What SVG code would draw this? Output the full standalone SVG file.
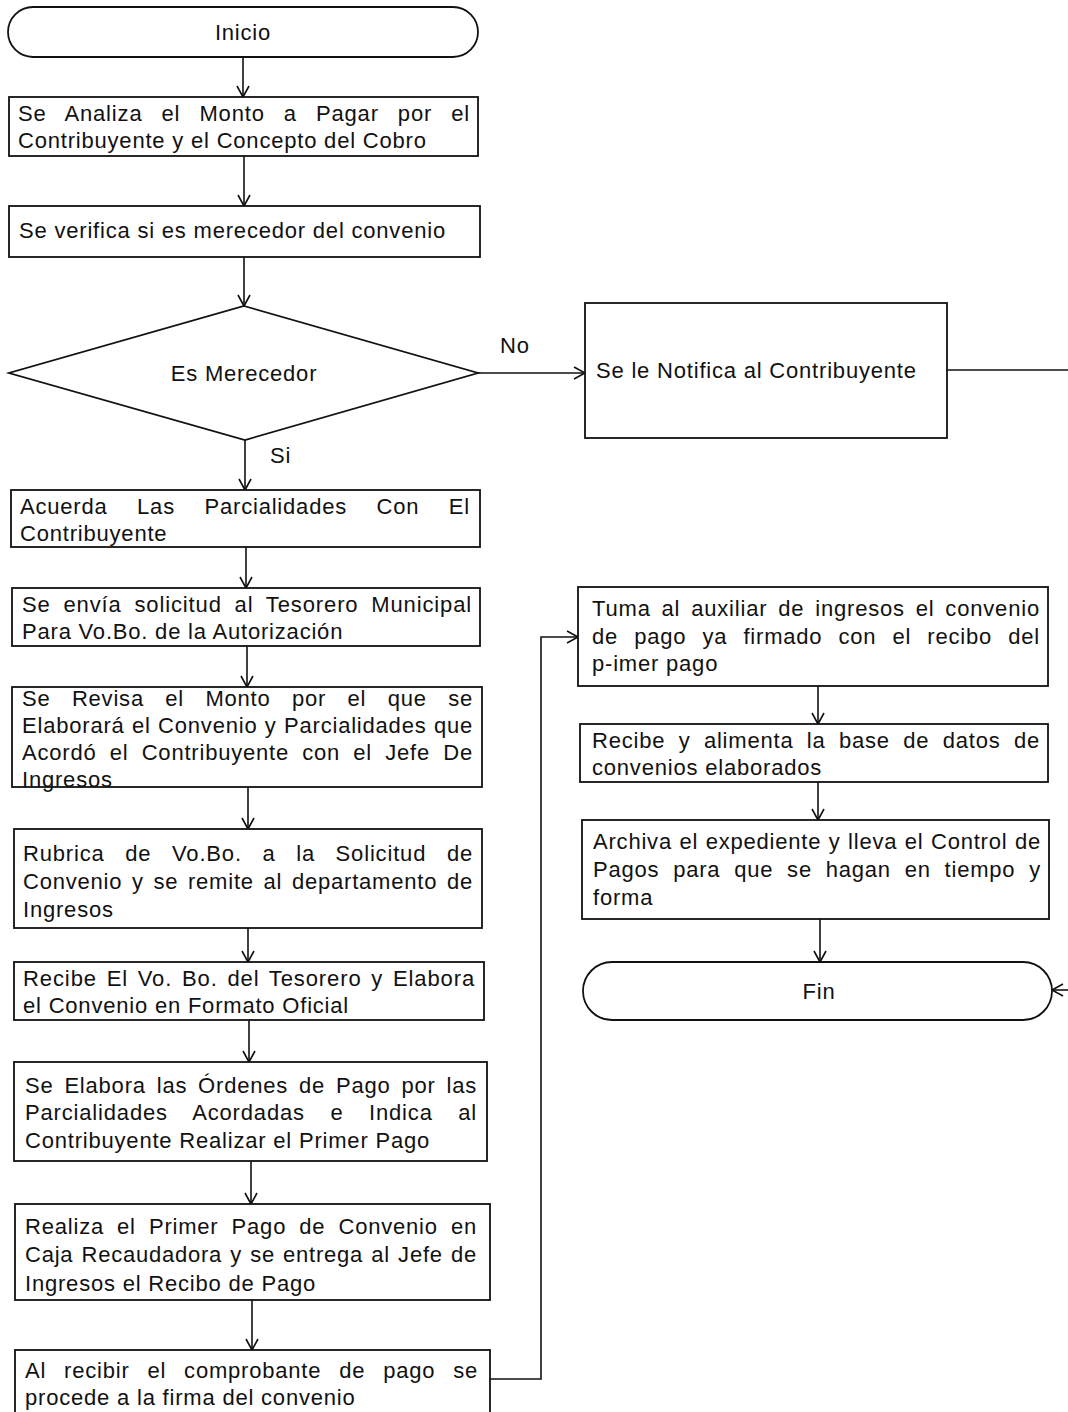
<svg xmlns="http://www.w3.org/2000/svg" width="1068" height="1412" viewBox="0 0 1068 1412">
<style>
.box{fill:#fff;stroke:#111;stroke-width:1.8}
.t{font-family:"Liberation Sans",Arial,sans-serif;font-size:22px;letter-spacing:0.8px;fill:#111}
.c{text-anchor:middle}
.ln{fill:none;stroke:#111;stroke-width:1.6}
</style>
<defs>
<marker id="ah" markerWidth="14" markerHeight="14" refX="12" refY="7" orient="auto" markerUnits="userSpaceOnUse">
<path d="M1,1 L12,7 L1,13" fill="none" stroke="#111" stroke-width="1.6"/>
</marker>
</defs>
<rect width="1068" height="1412" fill="#fff"/>

<g id="connectors">
<line class="ln" x1="243" y1="57" x2="243" y2="97" marker-end="url(#ah)"/>
<line class="ln" x1="244" y1="156" x2="244" y2="206" marker-end="url(#ah)"/>
<line class="ln" x1="244" y1="257" x2="244" y2="306" marker-end="url(#ah)"/>
<line class="ln" x1="478" y1="373" x2="585" y2="373" marker-end="url(#ah)"/>
<text class="t" x="500" y="353">No</text>
<line class="ln" x1="947" y1="370" x2="1075" y2="370"/>
<line class="ln" x1="245" y1="440" x2="245" y2="490" marker-end="url(#ah)"/>
<text class="t" x="270" y="463">Si</text>
<line class="ln" x1="246" y1="547" x2="246" y2="588" marker-end="url(#ah)"/>
<line class="ln" x1="247" y1="646" x2="247" y2="687" marker-end="url(#ah)"/>
<line class="ln" x1="248" y1="787" x2="248" y2="829" marker-end="url(#ah)"/>
<line class="ln" x1="248" y1="928" x2="248" y2="962" marker-end="url(#ah)"/>
<line class="ln" x1="249" y1="1020" x2="249" y2="1062" marker-end="url(#ah)"/>
<line class="ln" x1="251" y1="1161" x2="251" y2="1204" marker-end="url(#ah)"/>
<line class="ln" x1="252" y1="1300" x2="252" y2="1350" marker-end="url(#ah)"/>
<polyline class="ln" points="490,1379 541,1379 541,637 578,637" marker-end="url(#ah)"/>
<line class="ln" x1="818" y1="686" x2="818" y2="724" marker-end="url(#ah)"/>
<line class="ln" x1="818" y1="782" x2="818" y2="820" marker-end="url(#ah)"/>
<line class="ln" x1="820" y1="919" x2="820" y2="962" marker-end="url(#ah)"/>
<line class="ln" x1="1075" y1="990" x2="1052" y2="990" marker-end="url(#ah)"/>
</g>

<g id="inicio">
<rect class="box" x="8" y="7" width="470" height="50" rx="25" ry="25"/>
<text class="t c" x="243" y="40">Inicio</text>
</g>

<g id="analiza">
<rect class="box" x="9" y="97" width="469" height="59"/>
<text class="t" x="18" y="121" word-spacing="12.1" textLength="452" lengthAdjust="spacing">Se Analiza el Monto a Pagar por el</text>
<text class="t" x="18" y="148">Contribuyente y el Concepto del Cobro</text>
</g>

<g id="verifica">
<rect class="box" x="9" y="206" width="471" height="51"/>
<text class="t" x="19" y="238">Se verifica si es merecedor del convenio</text>
</g>

<g id="decision">
<polygon class="box" points="244,306 478,373 245,440 9,373"/>
<text class="t c" x="244" y="381">Es Merecedor</text>
</g>

<g id="notifica">
<rect class="box" x="585" y="303" width="362" height="135"/>
<text class="t" x="596" y="378">Se le Notifica al Contribuyente</text>
</g>

<g id="acuerda">
<rect class="box" x="11" y="490" width="469" height="57"/>
<text class="t" x="20" y="514" word-spacing="22.6" textLength="450" lengthAdjust="spacing">Acuerda Las Parcialidades Con El</text>
<text class="t" x="20" y="541">Contribuyente</text>
</g>

<g id="solicitud">
<rect class="box" x="12" y="588" width="468" height="58"/>
<text class="t" x="22" y="612" word-spacing="5.8" textLength="450" lengthAdjust="spacing">Se envía solicitud al Tesorero Municipal</text>
<text class="t" x="22" y="639">Para Vo.Bo. de la Autorización</text>
</g>

<g id="revisa">
<rect class="box" x="12" y="687" width="470" height="100"/>
<text class="t" x="22" y="706" word-spacing="14.5" textLength="451" lengthAdjust="spacing">Se Revisa el Monto por el que se</text>
<text class="t" x="22" y="733" word-spacing="0.5" textLength="451" lengthAdjust="spacing">Elaborará el Convenio y Parcialidades que</text>
<text class="t" x="22" y="760" word-spacing="6.3" textLength="451" lengthAdjust="spacing">Acordó el Contribuyente con el Jefe De</text>
<text class="t" x="22" y="787">Ingresos</text>
</g>

<g id="rubrica">
<rect class="box" x="14" y="829" width="468" height="99"/>
<text class="t" x="23" y="861" word-spacing="13.7" textLength="450" lengthAdjust="spacing">Rubrica de Vo.Bo. a la Solicitud de</text>
<text class="t" x="23" y="889" word-spacing="2.75" textLength="450" lengthAdjust="spacing">Convenio y se remite al departamento de</text>
<text class="t" x="23" y="917">Ingresos</text>
</g>

<g id="recibe">
<rect class="box" x="14" y="962" width="470" height="58"/>
<text class="t" x="23" y="986" word-spacing="2.7" textLength="452" lengthAdjust="spacing">Recibe El Vo. Bo. del Tesorero y Elabora</text>
<text class="t" x="23" y="1013">el Convenio en Formato Oficial</text>
</g>

<g id="ordenes">
<rect class="box" x="14" y="1062" width="473" height="99"/>
<text class="t" x="25" y="1093" word-spacing="4" textLength="452" lengthAdjust="spacing">Se Elabora las Órdenes de Pago por las</text>
<text class="t" x="25" y="1120" word-spacing="18.6" textLength="452" lengthAdjust="spacing">Parcialidades Acordadas e Indica al</text>
<text class="t" x="25" y="1148">Contribuyente Realizar el Primer Pago</text>
</g>

<g id="realiza">
<rect class="box" x="15" y="1204" width="475" height="96"/>
<text class="t" x="25" y="1234" word-spacing="6.2" textLength="452" lengthAdjust="spacing">Realiza el Primer Pago de Convenio en</text>
<text class="t" x="25" y="1262" word-spacing="1.3" textLength="452" lengthAdjust="spacing">Caja Recaudadora y se entrega al Jefe de</text>
<text class="t" x="25" y="1291">Ingresos el Recibo de Pago</text>
</g>

<g id="firma">
<rect class="box" x="15" y="1350" width="475" height="70"/>
<text class="t" x="25" y="1378" word-spacing="11" textLength="453" lengthAdjust="spacing">Al recibir el comprobante de pago se</text>
<text class="t" x="25" y="1405">procede a la firma del convenio</text>
</g>

<g id="turna">
<rect class="box" x="578" y="587" width="470" height="99"/>
<text class="t" x="592" y="616" word-spacing="3.9" textLength="448" lengthAdjust="spacing">Tuma al auxiliar de ingresos el convenio</text>
<text class="t" x="592" y="644" word-spacing="9.2" textLength="448" lengthAdjust="spacing">de pago ya firmado con el recibo del</text>
<text class="t" x="592" y="671">p-imer pago</text>
</g>

<g id="alimenta">
<rect class="box" x="580" y="724" width="468" height="58"/>
<text class="t" x="592" y="748" word-spacing="6.5" textLength="448" lengthAdjust="spacing">Recibe y alimenta la base de datos de</text>
<text class="t" x="592" y="775">convenios elaborados</text>
</g>

<g id="archiva">
<rect class="box" x="582" y="820" width="467" height="99"/>
<text class="t" x="593" y="849" word-spacing="0.6" textLength="448" lengthAdjust="spacing">Archiva el expediente y lleva el Control de</text>
<text class="t" x="593" y="877" word-spacing="6.9" textLength="448" lengthAdjust="spacing">Pagos para que se hagan en tiempo y</text>
<text class="t" x="593" y="905">forma</text>
</g>

<g id="fin">
<rect class="box" x="583" y="962" width="469" height="58" rx="29" ry="29"/>
<text class="t c" x="819" y="999">Fin</text>
</g>
</svg>
